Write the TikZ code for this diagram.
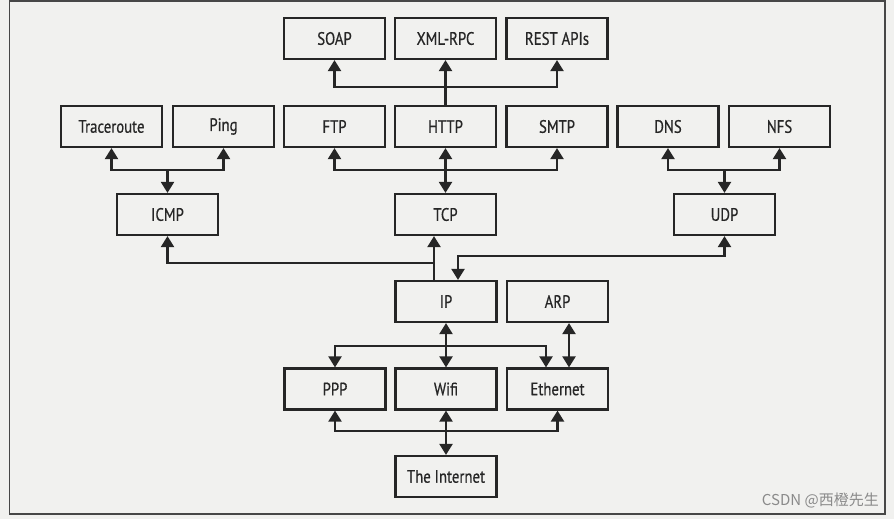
\documentclass[tikz,border=0pt]{standalone}
\usepackage{fontspec}
\setmainfont{PT Sans}[FakeStretch=0.82,FakeBold=0.6]
\newfontfamily\cjkfont{Noto Sans CJK SC}
\usetikzlibrary{arrows.meta}
\definecolor{paper}{HTML}{F1F1EF}
\definecolor{ink}{HTML}{262626}
\definecolor{wm}{HTML}{8A8A8A}
\tikzset{
  proto/.style={draw=ink, line width=2.2pt, minimum width=101pt, minimum height=41pt,
    inner sep=0pt, font=\fontsize{18}{20}\selectfont, text=ink},
  link/.style={draw=ink, line width=2.2pt},
  tri/.tip={Triangle[width=13pt,length=11pt]}
}
\begin{document}
\begin{tikzpicture}[x=1pt,y=-1pt]
\fill[paper] (0,0) rectangle (894,519);
\useasboundingbox (0,0) rectangle (894,519);
\draw[draw=ink!85, line width=1.3pt] (9.5,1) rectangle (885,514);

% nodes
\node[proto] (soap) at (334.5,38.5) {SOAP};
\node[proto] (xml)  at (445.5,38.5) {XML-RPC};
\node[proto] (rest) at (557,38.5) {REST APIs};
\node[proto] (tr)   at (111.5,126.5) {Traceroute};
\node[proto] (ping) at (223.5,126.5) {Ping};
\node[proto] (ftp)  at (334.5,126.5) {FTP};
\node[proto] (http) at (445.5,126.5) {HTTP};
\node[proto] (smtp) at (557,126.5) {SMTP};
\node[proto] (dns)  at (668,126.5) {DNS};
\node[proto] (nfs)  at (779.5,126.5) {NFS};
\node[proto] (icmp) at (167.5,214.5) {ICMP};
\node[proto] (tcp)  at (445.5,214.5) {TCP};
\node[proto] (udp)  at (724.5,214.5) {UDP};
\node[proto] (ip)   at (446,301.5) {IP};
\node[proto] (arp)  at (557.5,301.5) {ARP};
\node[proto] (ppp)  at (335,389) {PPP};
\node[proto] (wifi) at (446,389) {Wifi};
\node[proto] (eth)  at (557.5,389) {Ethernet};
\node[proto] (inet) at (446,476.5) {The Internet};

% junction coordinates
\coordinate (h1) at (445.5,87);
\coordinate (h2) at (445.5,170);
\coordinate (h3) at (167.5,170);
\coordinate (h4) at (724.5,170);
\coordinate (j1) at (434,263);
\coordinate (j2) at (458,256);
\coordinate (k1) at (446,346);
\coordinate (k2) at (446,431);
\coordinate (e1) at (546,346);
\coordinate (e2) at (569,346);

% application layer over HTTP
\draw[link,-{tri}] (http.north) -- (xml.south);
\draw[link,-{tri}] (h1) -| (soap.south);
\draw[link,-{tri}] (h1) -| (rest.south);

% TCP
\draw[link,{tri}-{tri}] (tcp.north) -- (http.south);
\draw[link,-{tri}] (h2) -| (ftp.south);
\draw[link,-{tri}] (h2) -| (smtp.south);

% ICMP
\draw[link,-{tri}] (h3) -| (tr.south);
\draw[link,-{tri}] (h3) -| (ping.south);
\draw[link,-{tri}] (h3) -- (icmp.north);

% UDP
\draw[link,-{tri}] (h4) -| (dns.south);
\draw[link,-{tri}] (h4) -| (nfs.south);
\draw[link,-{tri}] (h4) -- (udp.north);

% IP to transport
\draw[link,-{tri}] (ip.north -| j1) -- (tcp.south -| j1);
\draw[link,-{tri}] (j1) -| (icmp.south);
\draw[link,{tri}-{tri}] (udp.south) |- (j2) -- (ip.north -| j2);

% link layer
\draw[link,{tri}-{tri}] (ip.south) -- (wifi.north);
\draw[link,-{tri}] (k1) -| (ppp.north);
\draw[link,-{tri}] (k1) -- (e1) -- (eth.north -| e1);
\draw[link,{tri}-{tri}] (arp.south -| e2) -- (eth.north -| e2);

% physical
\draw[link,{tri}-{tri}] (wifi.south) -- (inet.north);
\draw[link,-{tri}] (k2) -| (ppp.south);
\draw[link,-{tri}] (k2) -| (eth.south);

% watermark
\node[text=wm, font=\cjkfont\fontsize{15}{17}\selectfont, anchor=east, inner sep=0pt] (wmark) at (879,500) {CSDN @西橙先生};
\end{tikzpicture}
\end{document}
